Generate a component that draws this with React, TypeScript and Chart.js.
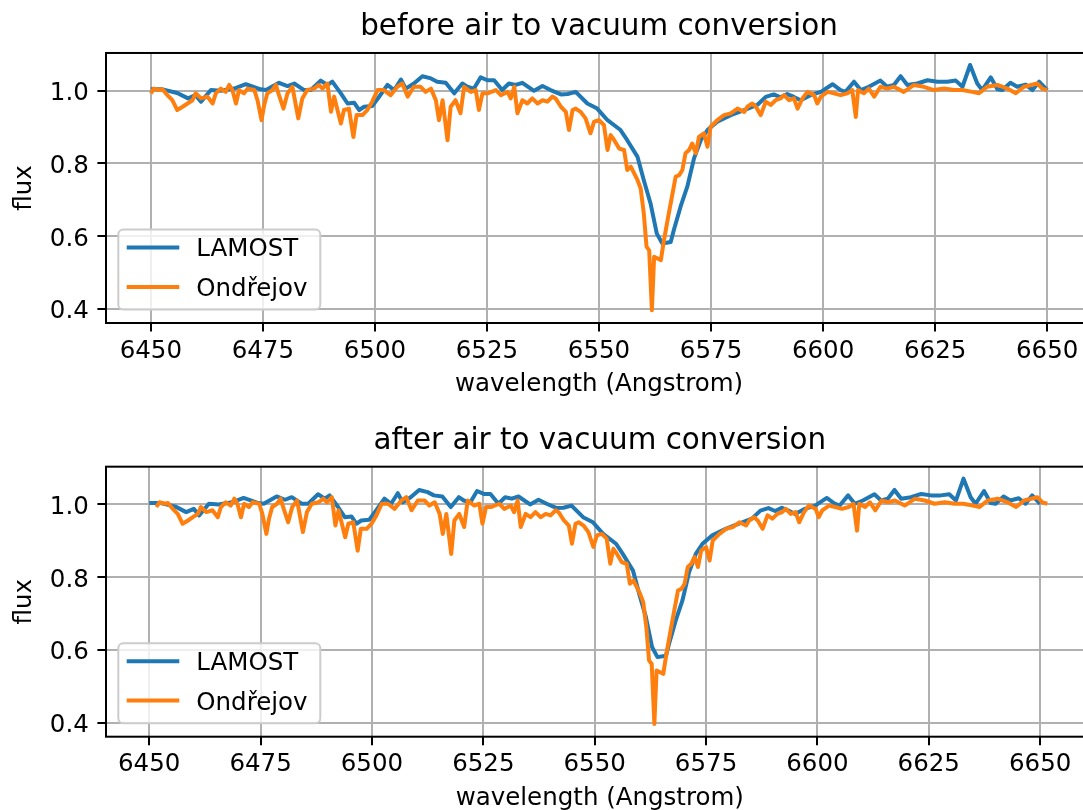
import React, { useEffect, useRef } from 'react';
import { Chart, registerables } from 'chart.js';

Chart.register(...registerables);

// ---------------- data ----------------
const X_TICKS = [6450, 6475, 6500, 6525, 6550, 6575, 6600, 6625, 6650];
const Y_TICKS = [0.4, 0.6, 0.8, 1.0];
const SERIES_LABELS = ['LAMOST', 'Ondřejov'];
const SERIES_COLORS = ['#1f77b4', '#ff7f0e'];
const PANEL_TITLES = ['before air to vacuum conversion', 'after air to vacuum conversion'];
const X_LABEL = 'wavelength (Angstrom)';
const Y_LABEL = 'flux';

const lamostWavelength = [
  6450.0, 6452.6, 6455.9, 6458.3, 6460.0, 6461.2, 6463.4, 6465.6, 6468.6, 6471.2,
  6474.5, 6475.7, 6478.6, 6480.5, 6482.0, 6484.2, 6485.7, 6487.9, 6489.4, 6490.5,
  6492.4, 6493.9, 6495.4, 6496.5, 6497.6, 6499.4, 6500.9, 6502.8, 6504.3, 6505.8,
  6506.9, 6508.7, 6510.6, 6512.5, 6513.9, 6515.8, 6517.7, 6519.5, 6520.6, 6522.1,
  6523.6, 6525.1, 6526.6, 6528.4, 6529.9, 6531.4, 6532.9, 6535.5, 6537.4, 6539.2,
  6541.5, 6543.0, 6544.8, 6547.4, 6549.6, 6551.9, 6554.8, 6556.3, 6558.6, 6560.0,
  6561.5, 6562.9, 6564.1, 6566.0, 6566.7, 6568.2, 6569.7, 6571.2, 6572.7, 6574.2,
  6576.4, 6579.4, 6582.4, 6585.3, 6587.2, 6589.0, 6590.5, 6592.0, 6593.5, 6595.0,
  6597.2, 6599.5, 6602.1, 6603.9, 6605.0, 6606.9, 6608.4, 6610.2, 6612.8, 6614.3,
  6615.8, 6617.3, 6618.8, 6621.0, 6623.3, 6625.5, 6627.7, 6629.6, 6631.1, 6632.8,
  6634.4, 6635.5, 6637.4, 6638.9, 6640.0, 6641.8, 6643.3, 6645.2, 6646.7, 6648.2,
  6650.0,
];
const lamostFlux = [
  1.004, 1.004, 0.994, 0.979, 0.988, 0.970, 1.002, 1.000, 1.006, 1.018,
  1.004, 1.002, 1.022, 1.013, 1.020, 1.002, 1.002, 1.028, 1.016, 1.025,
  0.993, 0.965, 0.967, 0.947, 0.956, 0.958, 0.983, 1.016, 1.002, 1.031,
  1.006, 1.020, 1.040, 1.034, 1.025, 1.022, 0.993, 1.020, 1.011, 1.006,
  1.037, 1.029, 1.029, 1.002, 1.020, 1.016, 1.022, 1.000, 1.013, 1.002,
  0.990, 0.991, 0.997, 0.965, 0.951, 0.919, 0.892, 0.864, 0.818, 0.754,
  0.690, 0.607, 0.580, 0.584, 0.617, 0.681, 0.736, 0.814, 0.864, 0.892,
  0.915, 0.933, 0.947, 0.961, 0.983, 0.990, 0.982, 0.991, 0.983, 0.974,
  0.988, 0.997, 1.018, 1.002, 0.997, 1.025, 1.002, 1.011, 1.028, 1.011,
  1.016, 1.040, 1.016, 1.020, 1.029, 1.025, 1.025, 1.028, 1.011, 1.071,
  1.020, 1.002, 1.037, 1.004, 1.002, 1.022, 1.011, 1.017, 1.002, 1.025,
  1.002,
];

// Ondřejov spectrum, wavelengths (air)
const ondrejovAirWavelength = [
  6450.0, 6450.7, 6451.9, 6452.6, 6453.7, 6454.8, 6455.9, 6457.1, 6458.2, 6459.3,
  6460.0, 6461.2, 6462.6, 6463.8, 6464.5, 6465.6, 6466.7, 6467.5, 6468.2, 6469.0,
  6469.7, 6470.8, 6471.6, 6473.1, 6473.8, 6474.7, 6475.3, 6476.0, 6477.1, 6477.9,
  6478.6, 6479.6, 6480.5, 6481.6, 6482.9, 6483.8, 6484.9, 6486.4, 6487.5, 6488.3,
  6489.4, 6490.2, 6490.9, 6492.4, 6493.1, 6494.2, 6495.2, 6495.9, 6497.2, 6498.3,
  6499.4, 6500.6, 6502.0, 6503.5, 6505.0, 6506.1, 6507.3, 6508.7, 6510.2, 6511.3,
  6512.5, 6513.6, 6514.3, 6515.1, 6516.2, 6516.9, 6518.0, 6519.1, 6519.9, 6521.4,
  6522.5, 6523.2, 6524.0, 6525.1, 6527.0, 6528.1, 6529.6, 6530.3, 6531.1, 6531.8,
  6532.9, 6534.0, 6535.1, 6536.3, 6537.4, 6538.5, 6539.6, 6540.3, 6541.5, 6542.6,
  6543.3, 6544.1, 6544.8, 6545.9, 6547.0, 6548.1, 6548.9, 6550.0, 6551.1, 6551.9,
  6552.6, 6553.4, 6554.5, 6555.6, 6556.3, 6557.1, 6558.6, 6559.3, 6560.0, 6560.6,
  6561.2, 6561.8, 6562.3, 6563.0, 6563.8, 6564.5, 6565.3, 6566.4, 6567.1, 6567.9,
  6568.6, 6569.3, 6570.1, 6570.8, 6571.6, 6572.3, 6573.4, 6574.2, 6574.9, 6576.4,
  6577.9, 6579.4, 6580.9, 6582.4, 6583.1, 6584.2, 6585.0, 6586.1, 6587.2, 6588.3,
  6589.4, 6590.5, 6591.3, 6592.4, 6593.5, 6594.3, 6595.4, 6596.5, 6598.0, 6598.7,
  6599.5, 6601.0, 6602.4, 6603.9, 6605.4, 6606.5, 6607.3, 6607.8, 6609.1, 6610.2,
  6611.4, 6612.8, 6614.3, 6615.8, 6618.0, 6620.3, 6622.5, 6624.7, 6627.0, 6629.2,
  6631.1, 6633.3, 6634.8, 6636.6, 6638.9, 6641.1, 6643.0, 6644.8, 6647.8, 6648.9,
  6650.0,
];
// the same spectrum (vacuum wavelengths)
const ondrejovVacuumWavelength = [
  6451.6, 6452.3, 6453.5, 6454.2, 6455.3, 6456.4, 6457.5, 6458.7, 6459.8, 6460.9,
  6461.6, 6462.8, 6464.2, 6465.4, 6466.1, 6467.2, 6468.3, 6469.1, 6469.8, 6470.6,
  6471.3, 6472.4, 6473.2, 6474.7, 6475.4, 6476.3, 6476.9, 6477.6, 6478.7, 6479.5,
  6480.2, 6481.2, 6482.1, 6483.2, 6484.5, 6485.4, 6486.5, 6488.0, 6489.1, 6489.9,
  6491.0, 6491.8, 6492.5, 6494.0, 6494.7, 6495.8, 6496.8, 6497.5, 6498.8, 6499.9,
  6501.0, 6502.2, 6503.6, 6505.1, 6506.6, 6507.7, 6508.9, 6510.3, 6511.8, 6512.9,
  6514.1, 6515.2, 6515.9, 6516.7, 6517.8, 6518.5, 6519.6, 6520.7, 6521.5, 6523.0,
  6524.1, 6524.8, 6525.6, 6526.7, 6528.6, 6529.7, 6531.2, 6531.9, 6532.7, 6533.4,
  6534.5, 6535.6, 6536.7, 6537.9, 6539.0, 6540.1, 6541.2, 6541.9, 6543.1, 6544.2,
  6544.9, 6545.7, 6546.4, 6547.5, 6548.6, 6549.7, 6550.5, 6551.6, 6552.7, 6553.5,
  6554.2, 6555.0, 6556.1, 6557.2, 6557.9, 6558.7, 6560.2, 6560.9, 6561.6, 6562.2,
  6562.8, 6563.4, 6563.9, 6564.6, 6565.4, 6566.1, 6566.9, 6568.0, 6568.7, 6569.5,
  6570.2, 6570.9, 6571.7, 6572.4, 6573.2, 6573.9, 6575.0, 6575.8, 6576.5, 6578.0,
  6579.5, 6581.0, 6582.5, 6584.0, 6584.7, 6585.8, 6586.6, 6587.7, 6588.8, 6589.9,
  6591.0, 6592.1, 6592.9, 6594.0, 6595.1, 6595.9, 6597.0, 6598.1, 6599.6, 6600.3,
  6601.1, 6602.6, 6604.0, 6605.5, 6607.0, 6608.1, 6608.9, 6609.4, 6610.7, 6611.8,
  6613.0, 6614.4, 6615.9, 6617.4, 6619.6, 6621.9, 6624.1, 6626.3, 6628.6, 6630.8,
  6632.7, 6634.9, 6636.4, 6638.2, 6640.5, 6642.7, 6644.6, 6646.4, 6649.4, 6650.5,
  6651.6,
];
const ondrejovFlux = [
  0.993, 1.006, 1.002, 1.004, 0.988, 0.974, 0.947, 0.956, 0.965, 0.974,
  0.993, 0.979, 0.984, 0.965, 0.993, 1.006, 0.997, 1.016, 1.002, 0.965,
  1.002, 0.993, 1.006, 1.002, 0.974, 0.919, 0.961, 0.993, 1.002, 1.016,
  0.988, 0.951, 0.993, 1.011, 0.924, 0.979, 1.002, 1.006, 1.016, 1.006,
  1.020, 0.942, 0.984, 0.910, 0.947, 0.951, 0.873, 0.933, 0.933, 0.947,
  0.970, 1.002, 1.002, 0.988, 1.011, 1.020, 0.984, 1.011, 1.011, 0.997,
  1.006, 0.974, 0.919, 0.974, 0.864, 0.956, 0.974, 0.938, 1.011, 0.997,
  1.002, 0.947, 0.993, 0.993, 1.002, 0.988, 0.997, 0.979, 1.011, 0.938,
  0.974, 0.965, 0.979, 0.965, 0.974, 0.970, 0.984, 0.979, 0.956, 0.942,
  0.892, 0.947, 0.951, 0.942, 0.924, 0.883, 0.915, 0.919, 0.906, 0.837,
  0.878, 0.864, 0.841, 0.837, 0.782, 0.791, 0.754, 0.731, 0.662, 0.571,
  0.561, 0.396, 0.543, 0.539, 0.534, 0.589, 0.644, 0.717, 0.763, 0.768,
  0.782, 0.828, 0.837, 0.855, 0.828, 0.873, 0.883, 0.846, 0.901, 0.919,
  0.933, 0.938, 0.951, 0.942, 0.956, 0.965, 0.956, 0.933, 0.970, 0.961,
  0.974, 0.979, 0.988, 0.974, 0.979, 0.951, 0.979, 0.997, 0.988, 0.965,
  0.984, 0.997, 0.993, 0.988, 0.993, 1.002, 0.928, 1.002, 0.993, 1.006,
  0.984, 1.011, 1.006, 1.011, 0.997, 1.016, 1.011, 1.002, 1.006, 1.002,
  1.002, 0.997, 0.993, 1.011, 1.016, 1.006, 0.993, 1.011, 1.020, 1.006,
  1.002,
];

// ---------------- styling ----------------
const FONT_FAMILY = "'DejaVu Sans', 'Liberation Sans', sans-serif";
const TICK_SIZE = 24.5;
const TITLE_SIZE = 29.4;
const LINE_WIDTH = 4;
const GRID_COLOR = '#b0b0b0';
const TEXT_COLOR = '#000000';
const CANVAS_WIDTH = 1110;

const toPoints = (xs: number[], ys: number[]) => xs.map((x, i) => ({ x, y: ys[i] }));

const framePlugin = {
  id: 'mplFrame',
  afterDatasetsDraw(chart: any) {
    const { ctx, chartArea: a } = chart;
    ctx.save();
    ctx.strokeStyle = '#000';
    ctx.lineWidth = 2;
    ctx.strokeRect(a.left, a.top, a.right - a.left, a.bottom - a.top);
    ctx.restore();
  },
};

const legendPlugin = {
  id: 'mplLegend',
  afterDraw(chart: any) {
    const { ctx, chartArea: a } = chart;
    const w = 202;
    const h = 80;
    const x = a.left + 12.3;
    const y = a.bottom - 13.5 - h;
    ctx.save();
    ctx.beginPath();
    ctx.roundRect(x, y, w, h, 5);
    ctx.fillStyle = 'rgba(255,255,255,0.8)';
    ctx.fill();
    ctx.strokeStyle = '#cccccc';
    ctx.lineWidth = 2;
    ctx.stroke();
    const rows = [18, 57.4];
    chart.data.datasets.forEach((ds: any, i: number) => {
      const ry = y + rows[i];
      ctx.beginPath();
      ctx.moveTo(x + 8.4, ry);
      ctx.lineTo(x + 61, ry);
      ctx.strokeStyle = ds.borderColor;
      ctx.lineWidth = ds.borderWidth;
      ctx.lineCap = 'butt';
      ctx.stroke();
      ctx.fillStyle = TEXT_COLOR;
      ctx.font = `${TICK_SIZE}px ${FONT_FAMILY}`;
      ctx.textBaseline = 'alphabetic';
      ctx.textAlign = 'left';
      ctx.fillText(ds.label, x + 78, ry + 8.9);
    });
    ctx.restore();
  },
};

type PanelSpec = {
  title: string;
  titlePadTop: number;
  titlePadBottom: number;
  xMin: number;
  xMax: number;
  xScaleHeight: number;
  xTitlePadBottom: number;
  rightPad: number;
  ondrejovWavelength: number[];
};

function makeConfig(p: PanelSpec): any {
  const tickFont = { family: FONT_FAMILY, size: TICK_SIZE };
  const grid = {
    color: GRID_COLOR,
    lineWidth: 2,
    tickColor: '#000',
    tickWidth: 2,
    tickLength: 8.6,
    drawTicks: true,
  };
  return {
    type: 'line',
    data: {
      datasets: [
        {
          label: SERIES_LABELS[0],
          data: toPoints(lamostWavelength, lamostFlux),
          borderColor: SERIES_COLORS[0],
          backgroundColor: SERIES_COLORS[0],
          borderWidth: LINE_WIDTH,
          pointRadius: 0,
          tension: 0,
          fill: false,
          borderJoinStyle: 'round',
          order: 1,
        },
        {
          label: SERIES_LABELS[1],
          data: toPoints(p.ondrejovWavelength, ondrejovFlux),
          borderColor: SERIES_COLORS[1],
          backgroundColor: SERIES_COLORS[1],
          borderWidth: LINE_WIDTH,
          pointRadius: 0,
          tension: 0,
          fill: false,
          borderJoinStyle: 'round',
          order: 0,
        },
      ],
    },
    options: {
      responsive: false,
      animation: false,
      devicePixelRatio: 1,
      events: [],
      layout: { padding: { left: 0, top: 0, right: p.rightPad, bottom: 0 } },
      plugins: {
        legend: { display: false },
        tooltip: { enabled: false },
        title: {
          display: true,
          fullSize: false,
          text: p.title,
          color: TEXT_COLOR,
          font: { family: FONT_FAMILY, size: TITLE_SIZE, weight: 'normal', lineHeight: 1.2 },
          padding: { top: p.titlePadTop, bottom: p.titlePadBottom },
        },
      },
      scales: {
        x: {
          type: 'linear',
          min: p.xMin,
          max: p.xMax,
          afterBuildTicks: (s: any) => {
            s.ticks = X_TICKS.map((v) => ({ value: v }));
          },
          afterFit: (s: any) => {
            s.height = p.xScaleHeight;
          },
          ticks: {
            callback: (v: any) => String(v),
            font: tickFont,
            color: TEXT_COLOR,
            padding: 4.9,
            maxRotation: 0,
            autoSkip: false,
          },
          grid,
          border: { display: false },
          title: {
            display: true,
            text: X_LABEL,
            color: TEXT_COLOR,
            font: { family: FONT_FAMILY, size: TICK_SIZE, lineHeight: 1.2 },
            padding: { top: 0, bottom: p.xTitlePadBottom },
          },
        },
        y: {
          type: 'linear',
          min: 0.361,
          max: 1.104,
          afterBuildTicks: (s: any) => {
            s.ticks = Y_TICKS.map((v) => ({ value: v }));
          },
          afterFit: (s: any) => {
            s.width = 106;
          },
          ticks: {
            callback: (v: any) => Number(v).toFixed(1),
            font: tickFont,
            color: TEXT_COLOR,
            padding: 8.6,
            labelOffset: 3,
            autoSkip: false,
          },
          grid,
          border: { display: false },
          title: {
            display: true,
            text: Y_LABEL,
            color: TEXT_COLOR,
            font: { family: FONT_FAMILY, size: TICK_SIZE, lineHeight: 1.2 },
            padding: { top: 9.7, bottom: 0 },
          },
        },
      },
    },
    plugins: [framePlugin, legendPlugin],
  };
}

const PANELS: { top: number; height: number; spec: PanelSpec }[] = [
  {
    top: 0,
    height: 405,
    spec: {
      title: PANEL_TITLES[0],
      titlePadTop: 10,
      titlePadBottom: 7.7,
      xMin: 6440,
      xMax: 6660,
      xScaleHeight: 82,
      xTitlePadBottom: 5.7,
      rightPad: 18,
      ondrejovWavelength: ondrejovAirWavelength,
    },
  },
  {
    top: 405,
    height: 430,
    spec: {
      title: PANEL_TITLES[1],
      titlePadTop: 18.4,
      titlePadBottom: 8.0,
      xMin: 6440.3,
      xMax: 6662,
      xScaleHeight: 98.3,
      xTitlePadBottom: 21.4,
      rightPad: 16.4,
      ondrejovWavelength: ondrejovVacuumWavelength,
    },
  },
];

function Panel({ top, height, spec }: { top: number; height: number; spec: PanelSpec }) {
  const ref = useRef<HTMLCanvasElement>(null);
  useEffect(() => {
    if (!ref.current) return;
    const chart = new Chart(ref.current, makeConfig(spec));
    return () => chart.destroy();
  }, [spec]);
  return (
    <canvas
      ref={ref}
      width={CANVAS_WIDTH}
      height={height}
      style={{ position: 'absolute', left: 0, top, width: CANVAS_WIDTH, height, display: 'block' }}
    />
  );
}

export default function App() {
  Chart.defaults.font.family = FONT_FAMILY;
  Chart.defaults.color = TEXT_COLOR;
  return (
    <div
      style={{
        position: 'fixed',
        left: 0,
        top: 0,
        width: 1083,
        height: 810,
        overflow: 'hidden',
        background: '#ffffff',
      }}
    >
      {PANELS.map((p, i) => (
        <Panel key={i} top={p.top} height={p.height} spec={p.spec} />
      ))}
    </div>
  );
}
